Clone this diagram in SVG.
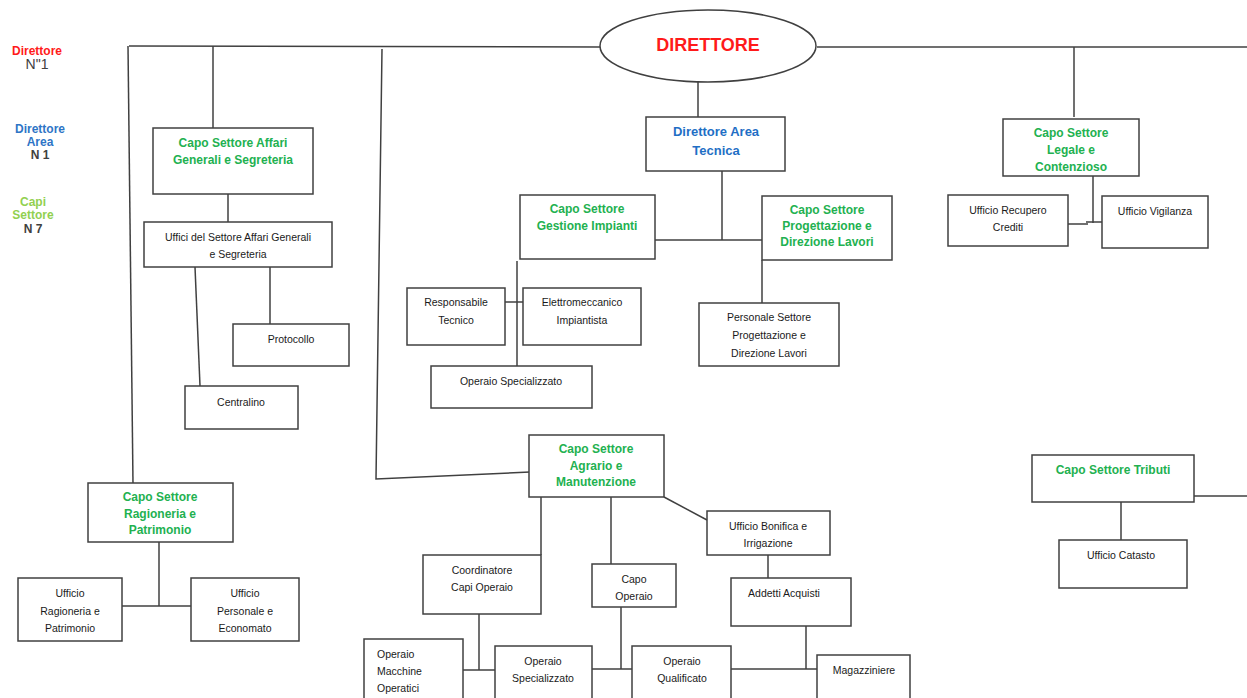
<svg xmlns="http://www.w3.org/2000/svg" width="1247" height="698" viewBox="0 0 1247 698">
<style>
.bx{fill:#fff;stroke:#404040;stroke-width:1.5}
.ln{fill:none;stroke:#404040;stroke-width:1.5}
.t{font-family:"Liberation Sans",Arial,sans-serif;font-size:10.5px;fill:#1a1a1a;text-anchor:middle}
.g{font-family:"Liberation Sans",Arial,sans-serif;font-size:12px;font-weight:bold;fill:#22b150;text-anchor:middle}
.lg{font-family:"Liberation Sans",Arial,sans-serif;font-size:12px;font-weight:bold;text-anchor:middle}
</style>
<rect width="1247" height="698" fill="#fff"/>
<g id="legend">
<text class="lg" x="37" y="55" fill="#ff1a1a">Direttore</text>
<text class="lg" x="37" y="69" fill="#404040" style="font-weight:normal;font-size:14px">N"1</text>
<text class="lg" x="40" y="133" fill="#2e75c6">Direttore</text>
<text class="lg" x="40" y="146" fill="#2e75c6">Area</text>
<text class="lg" x="40" y="159" fill="#404040">N 1</text>
<text class="lg" x="33" y="206" fill="#92d050">Capi</text>
<text class="lg" x="33" y="219" fill="#92d050">Settore</text>
<text class="lg" x="33" y="233" fill="#404040">N 7</text>
</g>
<g id="connectors">
<polyline class="ln" points="600,47 129,46"/>
<line class="ln" x1="128" y1="46" x2="133" y2="483"/>
<line class="ln" x1="213" y1="46" x2="213" y2="128"/>
<polyline class="ln" points="382,49 376,479 530,472"/>
<line class="ln" x1="817" y1="47" x2="1247" y2="47"/>
<line class="ln" x1="1074" y1="47" x2="1074" y2="117"/>
<line class="ln" x1="698" y1="82" x2="698" y2="117"/>
<line class="ln" x1="722" y1="171" x2="722" y2="240"/>
<line class="ln" x1="655" y1="240" x2="762" y2="240"/>
<line class="ln" x1="762" y1="260" x2="762" y2="303"/>
<line class="ln" x1="517" y1="261" x2="517" y2="366"/>
<line class="ln" x1="505" y1="302" x2="523" y2="302"/>
<line class="ln" x1="1093" y1="176" x2="1093" y2="223"/>
<polyline class="ln" points="1064,224 1088,224"/>
<polyline class="ln" points="1086,222 1110,222"/>
<line class="ln" x1="228" y1="194" x2="228" y2="222"/>
<line class="ln" x1="195" y1="267" x2="200" y2="386"/>
<line class="ln" x1="270" y1="267" x2="270" y2="324"/>
<line class="ln" x1="159" y1="542" x2="159" y2="606"/>
<line class="ln" x1="122" y1="606" x2="191" y2="606"/>
<line class="ln" x1="541" y1="497" x2="541" y2="555"/>
<line class="ln" x1="611" y1="497" x2="611" y2="564"/>
<line class="ln" x1="664" y1="497" x2="707" y2="520"/>
<line class="ln" x1="768" y1="555" x2="768" y2="578"/>
<line class="ln" x1="806" y1="626" x2="806" y2="669"/>
<line class="ln" x1="479" y1="614" x2="479" y2="670"/>
<line class="ln" x1="463" y1="670" x2="495" y2="670"/>
<line class="ln" x1="621" y1="607" x2="621" y2="669"/>
<line class="ln" x1="592" y1="669" x2="632" y2="669"/>
<line class="ln" x1="731" y1="669" x2="817" y2="669"/>
<line class="ln" x1="1194" y1="496" x2="1247" y2="496"/>
<line class="ln" x1="1121" y1="502" x2="1121" y2="540"/>
</g>
<g id="direttore">
<ellipse class="bx" cx="708" cy="46" rx="108" ry="36"/>
<text x="708" y="51" text-anchor="middle" font-family="Liberation Sans,Arial,sans-serif" font-size="18" font-weight="bold" fill="#ff1a1a">DIRETTORE</text>
</g>
<g id="area-tecnica">
<rect class="bx" x="646" y="117" width="139" height="54"/>
<text class="lg" x="716" y="136" fill="#1f6fc5" style="font-size:13px">Direttore Area</text>
<text class="lg" x="716" y="155" fill="#1f6fc5" style="font-size:13px">Tecnica</text>
</g>
<g id="gestione-impianti">
<rect class="bx" x="520" y="195" width="135" height="64"/>
<text class="g" x="587" y="213">Capo Settore</text>
<text class="g" x="587" y="230">Gestione Impianti</text>
</g>
<g id="progettazione">
<rect class="bx" x="762" y="196" width="130" height="64"/>
<text class="g" x="827" y="214">Capo Settore</text>
<text class="g" x="827" y="230">Progettazione e</text>
<text class="g" x="827" y="246">Direzione Lavori</text>
</g>
<g id="personale-progettazione">
<rect class="bx" x="699" y="303" width="140" height="63"/>
<text class="t" x="769" y="321">Personale Settore</text>
<text class="t" x="769" y="339">Progettazione e</text>
<text class="t" x="769" y="357">Direzione Lavori</text>
</g>
<g id="responsabile-tecnico">
<rect class="bx" x="407" y="288" width="98" height="57"/>
<text class="t" x="456" y="306">Responsabile</text>
<text class="t" x="456" y="324">Tecnico</text>
</g>
<g id="elettromeccanico">
<rect class="bx" x="523" y="288" width="118" height="57"/>
<text class="t" x="582" y="306">Elettromeccanico</text>
<text class="t" x="582" y="324">Impiantista</text>
</g>
<g id="operaio-specializzato-gi">
<rect class="bx" x="431" y="366" width="161" height="42"/>
<text class="t" x="511" y="385">Operaio Specializzato</text>
</g>
<g id="legale">
<rect class="bx" x="1003" y="119" width="136" height="57"/>
<text class="g" x="1071" y="137">Capo Settore</text>
<text class="g" x="1071" y="154">Legale e</text>
<text class="g" x="1071" y="171">Contenzioso</text>
</g>
<g id="recupero-crediti">
<rect class="bx" x="948" y="195" width="120" height="51"/>
<text class="t" x="1008" y="214">Ufficio Recupero</text>
<text class="t" x="1008" y="231">Crediti</text>
</g>
<g id="vigilanza">
<rect class="bx" x="1102" y="196" width="106" height="52"/>
<text class="t" x="1155" y="215">Ufficio Vigilanza</text>
</g>
<g id="affari-generali">
<rect class="bx" x="153" y="128" width="160" height="66"/>
<text class="g" x="233" y="147">Capo Settore Affari</text>
<text class="g" x="233" y="164">Generali e Segreteria</text>
</g>
<g id="uffici-affari">
<rect class="bx" x="144" y="222" width="188" height="45"/>
<text class="t" x="238" y="241">Uffici del Settore Affari Generali</text>
<text class="t" x="238" y="258">e Segreteria</text>
</g>
<g id="protocollo">
<rect class="bx" x="233" y="324" width="116" height="42"/>
<text class="t" x="291" y="343">Protocollo</text>
</g>
<g id="centralino">
<rect class="bx" x="185" y="386" width="113" height="43"/>
<text class="t" x="241" y="406">Centralino</text>
</g>
<g id="ragioneria">
<rect class="bx" x="88" y="483" width="145" height="59"/>
<text class="g" x="160" y="501">Capo Settore</text>
<text class="g" x="160" y="518">Ragioneria e</text>
<text class="g" x="160" y="534">Patrimonio</text>
</g>
<g id="ufficio-ragioneria">
<rect class="bx" x="18" y="578" width="104" height="63"/>
<text class="t" x="70" y="597">Ufficio</text>
<text class="t" x="70" y="615">Ragioneria e</text>
<text class="t" x="70" y="632">Patrimonio</text>
</g>
<g id="ufficio-personale">
<rect class="bx" x="191" y="578" width="108" height="63"/>
<text class="t" x="245" y="597">Ufficio</text>
<text class="t" x="245" y="615">Personale e</text>
<text class="t" x="245" y="632">Economato</text>
</g>
<g id="agrario">
<rect class="bx" x="529" y="435" width="135" height="62"/>
<text class="g" x="596" y="453">Capo Settore</text>
<text class="g" x="596" y="470">Agrario e</text>
<text class="g" x="596" y="486">Manutenzione</text>
</g>
<g id="coordinatore">
<rect class="bx" x="423" y="555" width="118" height="59"/>
<text class="t" x="482" y="574">Coordinatore</text>
<text class="t" x="482" y="591">Capi Operaio</text>
</g>
<g id="capo-operaio">
<rect class="bx" x="592" y="564" width="84" height="43"/>
<text class="t" x="634" y="583">Capo</text>
<text class="t" x="634" y="600">Operaio</text>
</g>
<g id="bonifica">
<rect class="bx" x="707" y="511" width="123" height="44"/>
<text class="t" x="768" y="530">Ufficio Bonifica e</text>
<text class="t" x="768" y="547">Irrigazione</text>
</g>
<g id="addetti-acquisti">
<rect class="bx" x="731" y="578" width="120" height="48"/>
<text class="t" x="784" y="597">Addetti Acquisti</text>
</g>
<g id="operaio-macchine">
<rect class="bx" x="364" y="639" width="99" height="65"/>
<text class="t" x="377" y="658" style="text-anchor:start">Operaio</text>
<text class="t" x="377" y="675" style="text-anchor:start">Macchine</text>
<text class="t" x="377" y="692" style="text-anchor:start">Operatici</text>
</g>
<g id="operaio-specializzato">
<rect class="bx" x="495" y="646" width="97" height="60"/>
<text class="t" x="543" y="665">Operaio</text>
<text class="t" x="543" y="682">Specializzato</text>
</g>
<g id="operaio-qualificato">
<rect class="bx" x="632" y="646" width="99" height="60"/>
<text class="t" x="682" y="665">Operaio</text>
<text class="t" x="682" y="682">Qualificato</text>
</g>
<g id="magazziniere">
<rect class="bx" x="817" y="655" width="93" height="50"/>
<text class="t" x="864" y="674">Magazziniere</text>
</g>
<g id="tributi">
<rect class="bx" x="1032" y="455" width="162" height="47"/>
<text class="g" x="1113" y="474">Capo Settore Tributi</text>
</g>
<g id="catasto">
<rect class="bx" x="1059" y="540" width="128" height="48"/>
<text class="t" x="1121" y="559">Ufficio Catasto</text>
</g>
</svg>
